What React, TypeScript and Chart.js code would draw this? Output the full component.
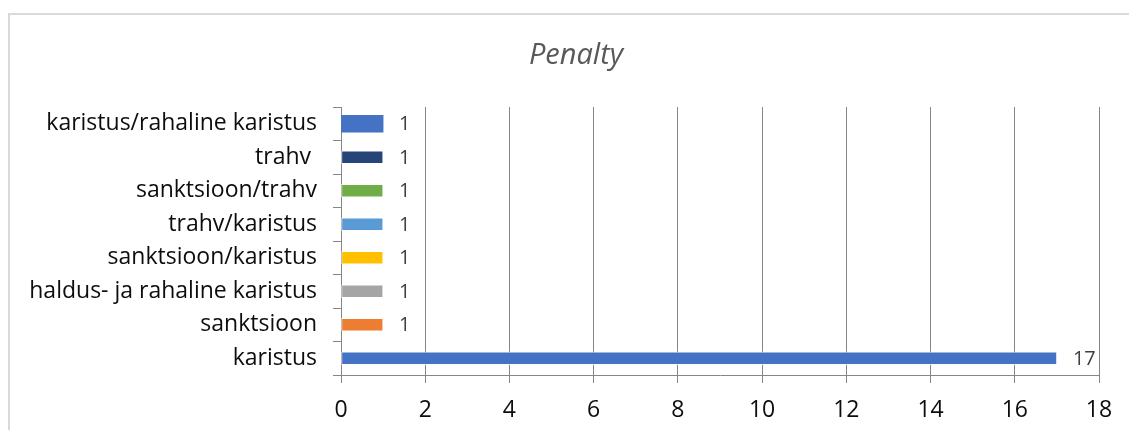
import { useEffect, useRef } from "react";
import { Chart, registerables } from "chart.js";

Chart.register(...registerables);

const titleText = "Penalty";
const categories = [
  "karistus/rahaline karistus",
  "trahv ",
  "sanktsioon/trahv",
  "trahv/karistus",
  "sanktsioon/karistus",
  "haldus- ja rahaline karistus",
  "sanktsioon",
  "karistus",
];
const values = [1, 1, 1, 1, 1, 1, 1, 17];
const barColors = ["#4472C4", "#264478", "#70AD47", "#5B9BD5", "#FFC000", "#A5A5A5", "#ED7D31", "#4472C4"];
const xMin = 0;
const xMax = 18;
const xStep = 2;

const FONT = "'Open Sans', Lato, sans-serif";

const labelPlugin = {
  id: "barValueLabels",
  afterDatasetsDraw(chart: any) {
    const ctx = chart.ctx;
    ctx.save();
    ctx.font = `20px ${FONT}`;
    ctx.fillStyle = "#404040";
    ctx.textAlign = "left";
    ctx.textBaseline = "middle";
    chart.data.datasets.forEach((ds: any, di: number) => {
      const meta = chart.getDatasetMeta(di);
      meta.data.forEach((el: any, i: number) => {
        const v = ds.data[i];
        if (v === null || v === undefined) return;
        ctx.fillText(String(v), el.x + 16, el.y + 1);
      });
    });
    ctx.restore();
  },
};

const titlePlugin = {
  id: "customTitle",
  afterDraw(chart: any) {
    const ctx = chart.ctx;
    ctx.save();
    ctx.font = `italic 29px ${FONT}`;
    ctx.fillStyle = "#595959";
    ctx.textAlign = "center";
    ctx.textBaseline = "middle";
    ctx.fillText(titleText, chart.width / 2, 42);
    ctx.restore();
  },
};

export default function App() {
  const ref = useRef<HTMLCanvasElement | null>(null);
  useEffect(() => {
    document.body.style.overflow = "hidden";
    const canvas = ref.current;
    if (!canvas) return;
    const firstData = values.map((v, i) => (i === 0 ? v : null));
    const restData = values.map((v, i) => (i === 0 ? null : v));
    const chart = new Chart(canvas, {
      type: "bar",
      data: {
        labels: categories,
        datasets: [
          {
            data: firstData,
            backgroundColor: barColors,
            barThickness: 17,
            grouped: false,
            borderWidth: 0,
          } as any,
          {
            data: restData,
            backgroundColor: barColors,
            barThickness: 13,
            grouped: false,
            borderWidth: 1,
            borderColor: "rgba(255,255,255,0.65)",
            borderSkipped: false,
          } as any,
        ],
      },
      options: {
        indexAxis: "y",
        responsive: false,
        animation: false,
        devicePixelRatio: 1,
        layout: { padding: { top: 93, right: 44, left: 0, bottom: 0 } },
        plugins: {
          legend: { display: false },
          title: { display: false },
          tooltip: { enabled: false },
        },
        scales: {
          x: {
            min: xMin,
            max: xMax,
            afterFit: (s: any) => {
              s.height = 55;
            },
            ticks: {
              stepSize: xStep,
              color: "#0d0d0d",
              font: { family: FONT, size: 23 },
              padding: 14,
            },
            grid: { color: "#868686", tickLength: 8, lineWidth: 1 },
            border: { color: "#868686" },
          },
          y: {
            afterFit: (s: any) => {
              s.width = 332;
            },
            ticks: {
              color: "#0d0d0d",
              font: { family: FONT, size: 23 },
              padding: 16,
              autoSkip: false,
            },
            grid: { drawOnChartArea: false, tickLength: 8, color: "#868686", offset: true },
            border: { color: "#868686" },
          },
        },
      } as any,
      plugins: [labelPlugin, titlePlugin],
    });
    return () => chart.destroy();
  }, []);
  return (
    <div>
      <div
        style={{
          position: "absolute",
          left: 8,
          top: 13,
          width: 1300,
          height: 600,
          border: "2px solid #D9D9D9",
          boxSizing: "border-box",
        }}
      />
      <canvas
        ref={ref}
        width={1134}
        height={416}
        style={{ position: "absolute", left: 9, top: 14, width: 1134, height: 416 }}
      />
    </div>
  );
}
